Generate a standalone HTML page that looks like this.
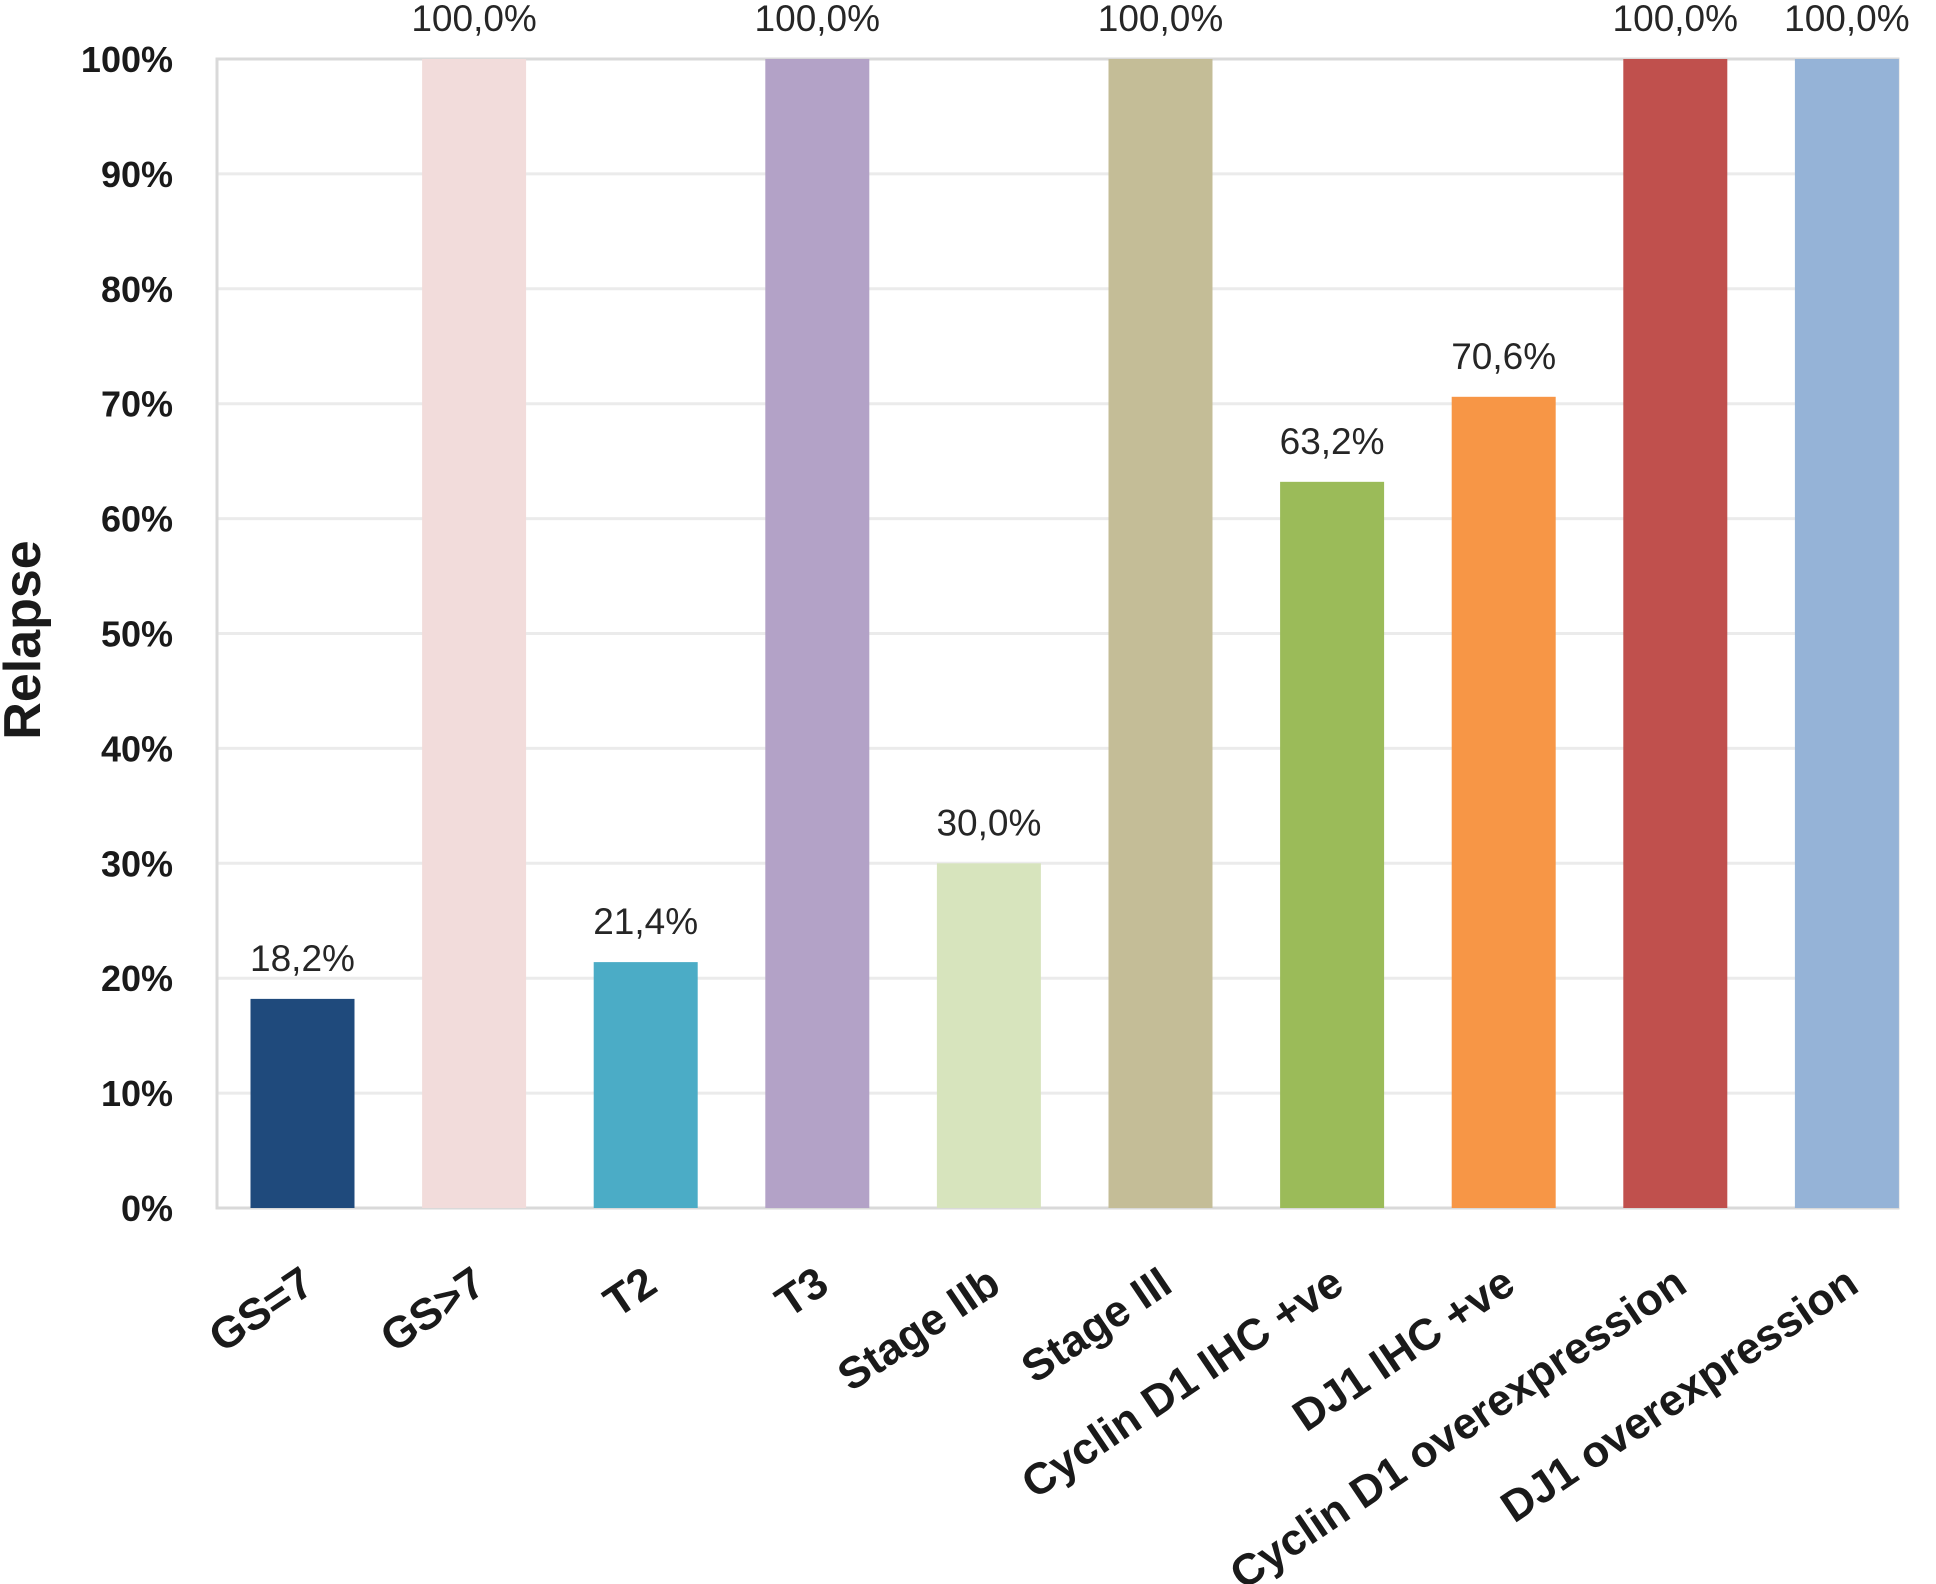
<!DOCTYPE html>
<html><head><meta charset="utf-8"><style>
html,body{margin:0;padding:0;background:#fff;}
svg{display:block;font-family:"Liberation Sans",sans-serif;}
</style></head><body>
<svg id="chart" width="1936" height="1584" viewBox="0 0 1936 1584" xmlns="http://www.w3.org/2000/svg">
<g id="grid"></g>
<g id="bars"></g>
<g id="yticks"></g>
<g id="xlabels"></g>
<g id="vlabels"></g>
<text transform="translate(40,640) rotate(-90)" text-anchor="middle" font-size="52" font-weight="bold" fill="#1a1a1a">Relapse</text>
</svg>
<script>
const categories=["GS=7","GS>7","T2","T3","Stage IIb","Stage III","Cyclin D1 IHC +ve","DJ1 IHC +ve","Cyclin D1 overexpression","DJ1 overexpression"];
const values=[18.2,100,21.4,100,30,100,63.2,70.6,100,100];
const valueLabels=["18,2%","100,0%","21,4%","100,0%","30,0%","100,0%","63,2%","70,6%","100,0%","100,0%"];
const colors=["#1f4a7c","#f2dcdb","#4bacc6","#b3a2c7","#d7e4bd","#c4bd97","#9bbb59","#f79646","#c0504d","#95b3d7"];
const yTicks=[0,10,20,30,40,50,60,70,80,90,100];
const NS="http://www.w3.org/2000/svg";
const L=217,R=1898,T=59,B=1208;
const y=v=>B-(B-T)*v/100;
const xc=i=>302.5+171.6*i;
const bw=104;
function mk(tag,parent,attrs){const e=document.createElementNS(NS,tag);for(const k in attrs)e.setAttribute(k,attrs[k]);parent.appendChild(e);return e;}
const grid=document.getElementById('grid');
yTicks.forEach(t=>{
  const l=mk('line',grid,{x1:L,x2:R,y1:y(t),y2:y(t),stroke:'#ebebeb','stroke-width':3});
  
  
  const tx=mk('text',document.getElementById('yticks'),{x:173,y:y(t)+13,'text-anchor':'end','font-size':36,'font-weight':'bold',fill:'#1a1a1a'});
  tx.textContent=t+'%';
  
  
});
const fr=mk('rect',grid,{x:L,y:T,width:R-L,height:B-T,fill:'none',stroke:'#d9d9d9','stroke-width':3});


values.forEach((v,i)=>{
  const r=mk('rect',document.getElementById('bars'),{x:xc(i)-bw/2,y:y(v),width:bw,height:B-y(v),fill:colors[i]});
  
  
  const vt=mk('text',document.getElementById('vlabels'),{x:xc(i),y:y(v)-28,'text-anchor':'middle','font-size':37,fill:'#262626'});
  vt.textContent=valueLabels[i];
  
  
  const xt=mk('text',document.getElementById('xlabels'),{transform:`translate(${xc(i)+14},${1290}) rotate(-34)`,'text-anchor':'end','font-size':44,'font-weight':'bold',fill:'#1a1a1a'});
  xt.textContent=categories[i];
  
  
});
</script>
</body></html>
